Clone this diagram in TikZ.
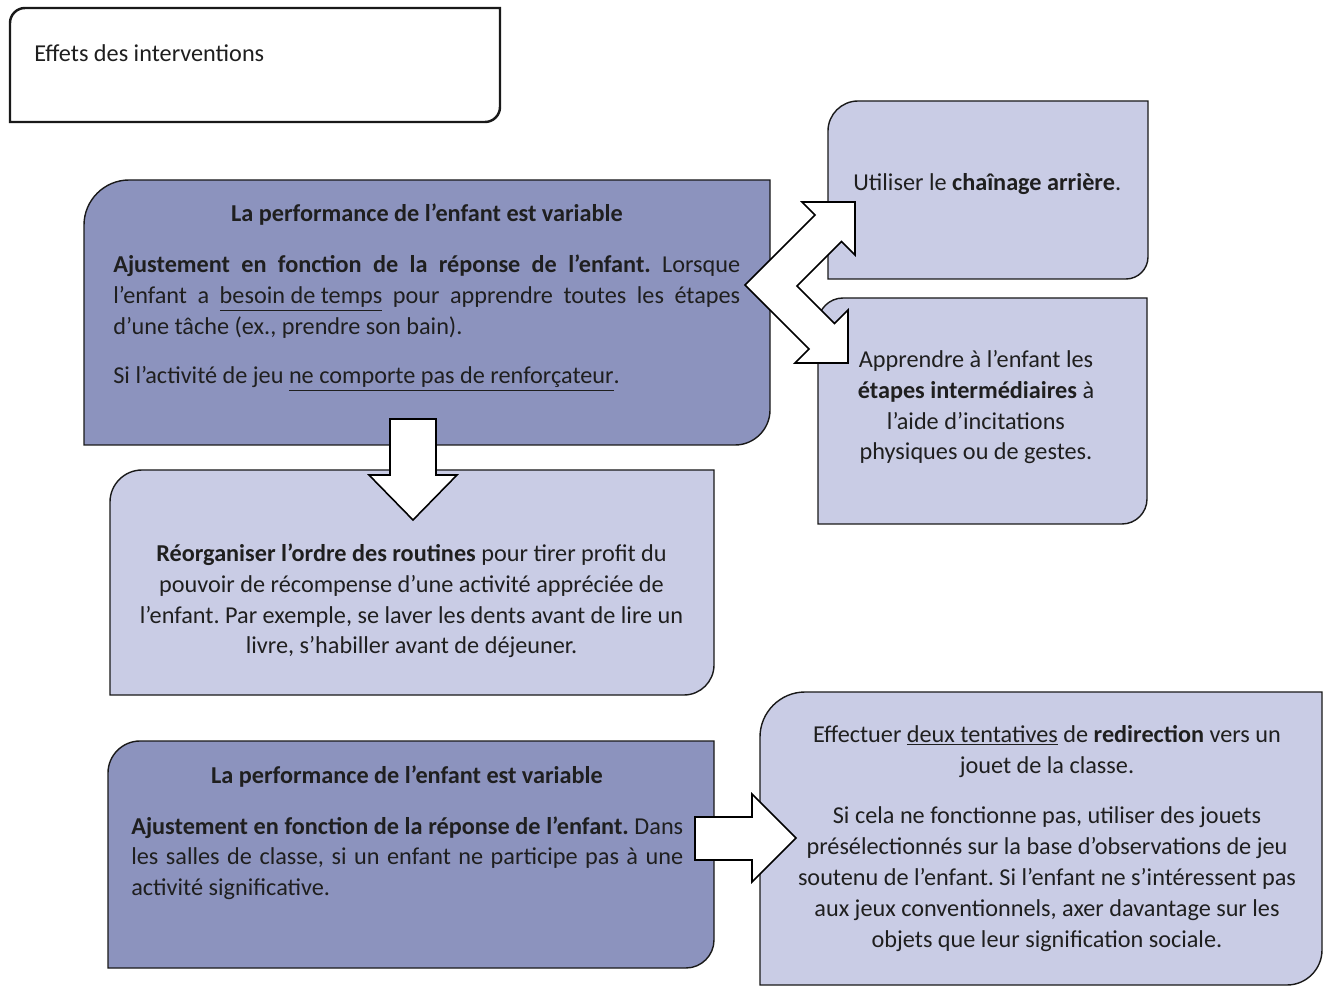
\documentclass[tikz,border=0pt]{standalone}
\usepackage{fontspec}
\setmainfont{Carlito}
\frenchspacing
\definecolor{darkfill}{RGB}{140,147,190}
\definecolor{lightfill}{RGB}{201,204,229}
\newcommand\cbox[7]{\draw[#1] (#2,#5) -- (#2,{#3+#6}) .. controls (#2,{#3+0.45*#6}) and ({#2+0.45*#6},#3) .. ({#2+#6},#3) -- (#4,#3) -- (#4,{#5-#7}) .. controls (#4,{#5-0.45*#7}) and ({#4-0.45*#7},#5) .. ({#4-#7},#5) -- cycle;}
\begin{document}
\begin{tikzpicture}[x=0.02cm,y=-0.02cm,
  frame/.style={draw=black!90, line width=0.8pt},
  darkbox/.style={frame, fill=darkfill},
  lightbox/.style={frame, fill=lightfill},
  titlebox/.style={draw=black!90, line width=1.4pt, fill=white},
  txt/.style={inner sep=0pt, text=black!88, font=\fontsize{13.8}{17.6}\selectfont\frenchspacing},
  blockarrow/.style={draw=black, fill=white, line width=0.9pt, line join=miter}]
\useasboundingbox (0,0) rectangle (1323,986);
\fill[white] (0,0) rectangle (1323,986);

% boxes
\cbox{titlebox}{10}{8}{500}{122}{15}{15}
\cbox{darkbox}{84}{180}{770}{445}{45}{35}
\cbox{lightbox}{828}{101}{1148}{279}{30}{22}
\cbox{lightbox}{818}{298}{1147}{524}{25}{25}
\cbox{lightbox}{110}{470}{714}{695}{32}{30}
\cbox{darkbox}{108}{741}{714}{968}{32}{28}
\cbox{lightbox}{760}{692}{1322}{985}{45}{35}

% block arrows
\draw[blockarrow] (745,285) -- (815,215) -- (802,202) -- (855,202) -- (855,255) -- (841.5,241.5) -- (797,286)
  -- (834.5,323.5) -- (848,310) -- (848,363) -- (795,363) -- (809,349) -- cycle;
\draw[blockarrow] (390,419) -- (436,419) -- (436,475) -- (457,475) -- (413,520) -- (369,475) -- (390,475) -- cycle;
\draw[blockarrow] (695,817) -- (752,817) -- (752,794) -- (796,838) -- (752,882) -- (752,860) -- (695,860) -- cycle;

% texts
\node[txt, anchor=base west] (title) at (34,62) {Effets des interventions};

\node[txt, anchor=base] (headA) at (427,222) {\textbf{La performance de l’enfant est variable}};
\node[txt, anchor=base west, text width=12.54cm, align=justify] (bodyA) at (113,273)
  {\textbf{Ajustement en fonction de la réponse de l’enfant.} Lorsque\linebreak
   l’enfant a \underline{besoin de temps} pour apprendre toutes les étapes\linebreak
   d’une tâche (ex., prendre son bain).\par\vspace{10pt}
   Si l’activité de jeu \underline{ne comporte pas de renforçateur}.};

\node[txt, anchor=base west] (boxB) at (853,191) {Utiliser le \textbf{chaînage arrière}.};

% centred boxes: anchor = baseline of last line
\node[txt, anchor=base, align=center] (boxC) at (976,460)
  {Apprendre à l’enfant les\\ \textbf{étapes intermédiaires} à\\ l’aide d’incitations\\ physiques ou de gestes.};

\node[txt, anchor=base, align=center] (boxD) at (411.5,654)
  {\textbf{Réorganiser l’ordre des routines} pour tirer profit du\\
   pouvoir de récompense d’une activité appréciée de\\
   l’enfant. Par exemple, se laver les dents avant de lire un\\
   livre, s’habiller avant de déjeuner.};

\node[txt, anchor=base] (headE) at (407,783) {\textbf{La performance de l’enfant est variable}};
\node[txt, anchor=base west, text width=11.04cm, align=justify] (bodyE) at (131,834)
  {\textbf{Ajustement en fonction de la réponse de l’enfant.} Dans\linebreak
   les salles de classe, si un enfant ne participe pas à une\linebreak
   activité significative.};

\node[txt, anchor=base, align=center] (boxF) at (1047,947)
  {Effectuer \underline{deux tentatives} de \textbf{redirection} vers un\\
   jouet de la classe.\\[11pt]
   Si cela ne fonctionne pas, utiliser des jouets\\
   présélectionnés sur la base d’observations de jeu\\
   soutenu de l’enfant. Si l’enfant ne s’intéressent pas\\
   aux jeux conventionnels, axer davantage sur les\\
   objets que leur signification sociale.};
\end{tikzpicture}
\end{document}
